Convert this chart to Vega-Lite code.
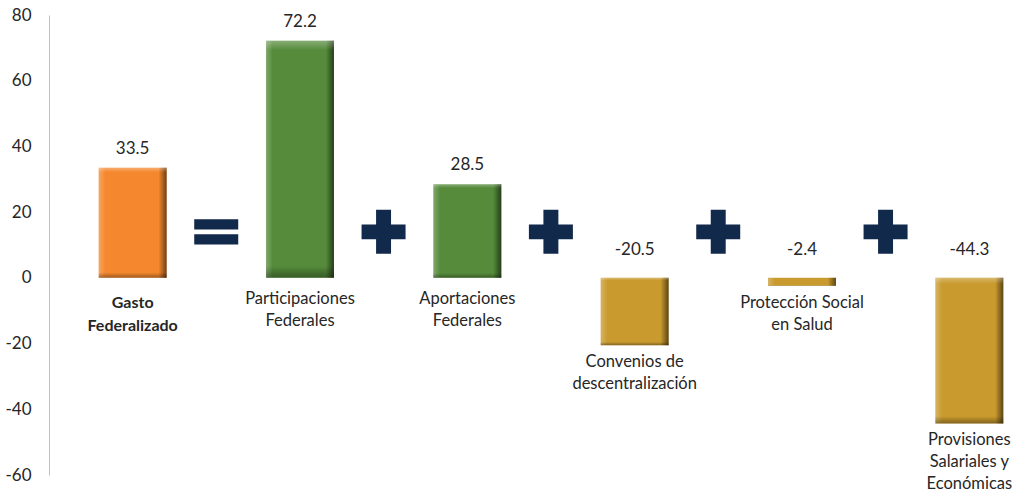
{
  "$schema": "https://vega.github.io/schema/vega-lite/v6.json",
  "width": 1004,
  "height": 460,
  "autosize": "none",
  "padding": {"left": 49, "top": 15, "right": 0, "bottom": 17},
  "config": {
    "view": {"stroke": null},
    "font": "Lato",
    "text": {"font": "Lato"},
    "locale": {"number": {"decimal": ".", "thousands": ",", "grouping": [3], "currency": ["$", ""], "minus": "-"}}
  },
  "data": {
    "values": [
      {"cat": "Gasto\nFederalizado", "value": 33.5, "grupo": "total", "op": "="},
      {"cat": "Participaciones\nFederales", "value": 72.2, "grupo": "ingreso", "op": "+"},
      {"cat": "Aportaciones\nFederales", "value": 28.5, "grupo": "ingreso", "op": "+"},
      {"cat": "Convenios de\ndescentralización", "value": -20.5, "grupo": "reduccion", "op": "+"},
      {"cat": "Protección Social\nen Salud", "value": -2.4, "grupo": "reduccion", "op": "+"},
      {"cat": "Provisiones\nSalariales y\nEconómicas", "value": -44.3, "grupo": "reduccion", "op": null}
    ]
  },
  "encoding": {
    "x": {
      "field": "cat", "type": "nominal", "sort": null, "axis": null,
      "scale": {"paddingInner": 0.594, "paddingOuter": 0.297}
    }
  },
  "layer": [
    {
      "mark": {"type": "bar", "cornerRadius": 0},
      "encoding": {
        "y": {
          "field": "value", "type": "quantitative",
          "scale": {"domain": [-60, 80], "nice": false},
          "axis": {
            "values": [-60, -40, -20, 0, 20, 40, 60, 80],
            "ticks": false, "grid": false, "title": null,
            "domainColor": "#BFBFBF", "domainWidth": 1,
            "labelFontSize": 17, "labelPadding": 18, "labelColor": "#262626",
            "labelFont": "Lato"
          }
        },
        "color": {
          "field": "grupo", "type": "nominal", "legend": null,
          "scale": {"domain": ["total", "ingreso", "reduccion"], "range": ["#F5882E", "#558B3B", "#C99A2E"]}
        }
      }
    },
    {
      "mark": {
        "type": "bar",
        "fill": {
          "gradient": "linear", "x1": 0, "x2": 1, "y1": 0, "y2": 0,
          "stops": [
            {"offset": 0, "color": "rgba(255,255,255,0.25)"},
            {"offset": 0.1, "color": "rgba(255,255,255,0)"},
            {"offset": 0.88, "color": "rgba(0,0,0,0)"},
            {"offset": 1, "color": "rgba(0,0,0,0.55)"}
          ]
        }
      },
      "encoding": {"y": {"field": "value", "type": "quantitative"}}
    },
    {
      "mark": {
        "type": "bar",
        "fill": {
          "gradient": "linear", "x1": 0, "x2": 0, "y1": 0, "y2": 1,
          "stops": [
            {"offset": 0, "color": "rgba(255,255,255,0.3)"},
            {"offset": 0.04, "color": "rgba(255,255,255,0)"},
            {"offset": 0.95, "color": "rgba(0,0,0,0)"},
            {"offset": 1, "color": "rgba(0,0,0,0.35)"}
          ]
        }
      },
      "encoding": {"y": {"field": "value", "type": "quantitative"}}
    },
    {
      "transform": [{"filter": "datum.value > 0"}],
      "mark": {"type": "text", "fontSize": 17, "color": "#262626", "baseline": "middle", "dy": -19},
      "encoding": {
        "y": {"field": "value", "type": "quantitative"},
        "text": {"field": "value", "type": "quantitative", "format": ".1f"}
      }
    },
    {
      "transform": [{"filter": "datum.value < 0"}],
      "mark": {"type": "text", "fontSize": 17, "color": "#262626", "baseline": "middle", "dy": -28},
      "encoding": {
        "y": {"datum": 0, "type": "quantitative"},
        "text": {"field": "value", "type": "quantitative", "format": ".1f"}
      }
    },
    {
      "transform": [{"filter": "datum.value > 0 && datum.grupo !== 'total'"}],
      "mark": {"type": "text", "fontSize": 16.5, "color": "#262626", "baseline": "top", "dy": 13, "lineBreak": "\n", "lineHeight": 22},
      "encoding": {
        "y": {"datum": 0, "type": "quantitative"},
        "text": {"field": "cat"}
      }
    },
    {
      "transform": [{"filter": "datum.grupo === 'total'"}],
      "mark": {"type": "text", "fontSize": 16, "fontWeight": "bold", "color": "#262626", "baseline": "top", "dy": 17, "lineBreak": "\n", "lineHeight": 23},
      "encoding": {
        "y": {"datum": 0, "type": "quantitative"},
        "text": {"field": "cat"}
      }
    },
    {
      "transform": [{"filter": "datum.value < 0"}],
      "mark": {"type": "text", "fontSize": 16.5, "color": "#262626", "baseline": "top", "dy": 9, "lineBreak": "\n", "lineHeight": 22},
      "encoding": {
        "y": {"field": "value", "type": "quantitative"},
        "text": {"field": "cat"}
      }
    },
    {
      "transform": [{"filter": "datum.op != null"}],
      "mark": {"type": "point", "filled": true, "size": 1936, "fill": "#11294B", "opacity": 1, "strokeWidth": 0},
      "encoding": {
        "x": {"field": "cat", "type": "nominal", "sort": null, "bandPosition": 1.73},
        "y": {"datum": 14, "type": "quantitative"},
        "shape": {
          "field": "op", "type": "nominal", "legend": null,
          "scale": {
            "domain": ["=", "+"],
            "range": ["M-1,-0.57H1V-0.11H-1Z M-1,0.11H1V0.57H-1Z", "M-1,-0.34H-0.34V-1H0.34V-0.34H1V0.34H0.34V1H-0.34V0.34H-1Z"]
          }
        }
      }
    }
  ]
}
